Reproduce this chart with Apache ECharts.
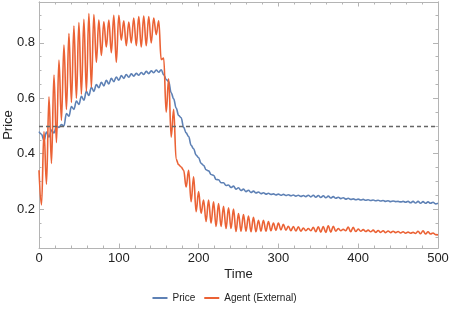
<!DOCTYPE html>
<html>
<head>
<meta charset="utf-8">
<script src="https://cdn.jsdelivr.net/npm/echarts@6/dist/echarts.min.js"></script>
<style>
html,body{margin:0;padding:0;background:#fff;}
#c{width:449px;height:311px;}
</style>
</head>
<body>
<div id="c"></div>
<script>
// Sample times (half-period grid)
const time = [
0,3.125,6.25,9.375,12.5,15.625,18.75,21.875,
25,28.125,31.25,34.375,37.5,40.625,43.75,46.875,
50,53.125,56.25,59.375,62.5,65.625,68.75,71.875,
75,78.125,81.25,84.375,87.5,90.625,93.75,96.875,
100,103.125,106.25,109.375,112.5,115.625,118.75,121.875,
125,128.125,131.25,134.375,137.5,140.625,143.75,146.875,
150,153.125,156.25,159.375,162.5,165.625,168.75,171.875,
175,178.125,181.25,184.375,187.5,190.625,193.75,196.875,
200,203.125,206.25,209.375,212.5,215.625,218.75,221.875,
225,228.125,231.25,234.375,237.5,240.625,243.75,246.875,
250,253.125,256.25,259.375,262.5,265.625,268.75,271.875,
275,278.125,281.25,284.375,287.5,290.625,293.75,296.875,
300,303.125,306.25,309.375,312.5,315.625,318.75,321.875,
325,328.125,331.25,334.375,337.5,340.625,343.75,346.875,
350,353.125,356.25,359.375,362.5,365.625,368.75,371.875,
375,378.125,381.25,384.375,387.5,390.625,393.75,396.875,
400,403.125,406.25,409.375,412.5,415.625,418.75,421.875,
425,428.125,431.25,434.375,437.5,440.625,443.75,446.875,
450,453.125,456.25,459.375,462.5,465.625,468.75,471.875,
475,478.125,481.25,484.375,487.5,490.625,493.75,496.875,
500];

const price = [
0.48,0.47,0.448,0.478,0.46,0.485,0.475,0.50,
0.495,0.505,0.50,0.545,0.535,0.57,0.56,0.59,
0.578,0.607,0.593,0.625,0.61,0.64,0.625,0.65,
0.638,0.658,0.645,0.665,0.652,0.672,0.66,0.677,
0.665,0.682,0.672,0.686,0.676,0.688,0.68,0.69,
0.683,0.693,0.686,0.697,0.689,0.699,0.692,0.702,
0.694,0.703,0.685,0.668,0.66,0.62,0.598,0.565,
0.538,0.53,0.495,0.475,0.462,0.43,0.418,0.395,
0.386,0.365,0.358,0.342,0.338,0.325,0.322,0.307,
0.306,0.295,0.295,0.285,0.287,0.278,0.283,0.272,
0.277,0.267,0.272,0.263,0.268,0.26,0.265,0.258,
0.262,0.256,0.259,0.254,0.257,0.253,0.255,0.251,
0.254,0.25,0.253,0.249,0.252,0.248,0.251,0.247,
0.25,0.246,0.249,0.245,0.25,0.244,0.25,0.243,
0.249,0.242,0.248,0.241,0.247,0.24,0.245,0.239,
0.243,0.238,0.241,0.236,0.239,0.235,0.237,0.234,
0.236,0.233,0.235,0.232,0.234,0.231,0.233,0.23,
0.232,0.229,0.231,0.228,0.23,0.227,0.229,0.227,
0.228,0.226,0.228,0.225,0.228,0.223,0.228,0.222,
0.228,0.221,0.227,0.221,0.226,0.221,0.225,0.219,
0.221];

const agent = [
0.34,0.215,0.48,0.29,0.605,0.365,0.684,0.44,
0.738,0.52,0.792,0.56,0.834,0.585,0.861,0.60,
0.873,0.615,0.885,0.625,0.906,0.64,0.902,0.73,
0.882,0.755,0.876,0.785,0.882,0.765,0.90,0.73,
0.90,0.81,0.88,0.79,0.875,0.80,0.89,0.79,
0.895,0.785,0.897,0.79,0.895,0.80,0.89,0.83,
0.88,0.74,0.745,0.55,0.67,0.46,0.56,0.38,
0.36,0.352,0.34,0.28,0.34,0.227,0.317,0.191,
0.263,0.185,0.233,0.155,0.233,0.149,0.226,0.137,
0.22,0.137,0.21,0.13,0.205,0.13,0.20,0.119,
0.184,0.12,0.18,0.12,0.175,0.118,0.17,0.118,
0.16,0.12,0.16,0.12,0.155,0.122,0.15,0.123,
0.15,0.125,0.145,0.124,0.138,0.122,0.137,0.121,
0.136,0.12,0.132,0.122,0.13,0.122,0.134,0.118,
0.136,0.117,0.137,0.116,0.14,0.117,0.138,0.12,
0.13,0.122,0.127,0.122,0.135,0.118,0.134,0.119,
0.128,0.12,0.126,0.119,0.124,0.118,0.124,0.116,
0.123,0.116,0.122,0.115,0.121,0.115,0.12,0.115,
0.119,0.114,0.118,0.113,0.117,0.113,0.116,0.112,
0.12,0.111,0.122,0.11,0.118,0.11,0.114,0.108,
0.107];

const threshold = 0.5;
const yMajor = [0.2,0.4,0.6,0.8];
const yMinor = [0.1,0.15,0.25,0.3,0.35,0.45,0.5,0.55,0.65,0.7,0.75,0.85,0.9];

const Y_MIN = 0.0596, Y_MAX = 0.9476;
const frameColor = '#b4b4b4';
const font = 'Liberation Sans, Arial, sans-serif';

function xAx(pos, labels){
  return {
    type:'value', position:pos, min:0, max:500, interval:100,
    name: labels ? 'Time' : '', nameLocation:'middle', nameGap:20, nameMoveOverlap:false,
    nameTextStyle:{color:'#222', fontSize:13, fontFamily:font},
    axisLine:{show:true, lineStyle:{color:frameColor, width:1}},
    axisTick:{show:true, inside:true, length:4.5, lineStyle:{color:frameColor}},
    minorTick:{show:true, splitNumber:5, length:2.5, lineStyle:{color:frameColor}},
    axisLabel:{show:labels, color:'#222', fontSize:13, fontFamily:font, margin:4},
    splitLine:{show:false}
  };
}
function yAx(pos, values, len, labels){
  return {
    type:'value', position:pos, min:Y_MIN, max:Y_MAX,
    name: labels ? 'Price' : '', nameLocation:'middle', nameGap:24, nameMoveOverlap:false,
    nameTextStyle:{color:'#222', fontSize:13, fontFamily:font},
    axisLine:{show:true, lineStyle:{color:frameColor, width:1}},
    axisTick:{show:true, inside:true, length:len, customValues:values, lineStyle:{color:frameColor}},
    axisLabel:{show:labels, color:'#222', fontSize:13, fontFamily:font, margin:4,
      customValues: values, formatter: v => (Math.round(v*10)/10).toFixed(1)},
    splitLine:{show:false}
  };
}

const chart = echarts.init(document.getElementById('c'), null, {renderer:'canvas'});
chart.setOption({
  animation:false,
  backgroundColor:'#fff',
  grid:{left:39, right:11, top:2, bottom:63, containLabel:false, outerBoundsMode:'none'},
  xAxis:[xAx('bottom', true), xAx('top', false)],
  yAxis:[yAx('left', yMajor, 5, true), yAx('left', yMinor, 2.5, false),
         yAx('right', yMajor, 5, false), yAx('right', yMinor, 2.5, false)],
  legend:{
    bottom:3, left:'center', itemWidth:15, itemHeight:2, itemGap:9,
    textStyle:{fontSize:10, color:'#222', fontFamily:font},
    data:[{name:'Price', icon:'rect'},{name:'Agent (External)', icon:'rect'}]
  },
  series:[
    {name:'Price', type:'line', xAxisIndex:0, yAxisIndex:0, symbol:'none',
     smooth:0.4, smoothMonotone:'x',
     lineStyle:{color:'#5E81B5', width:1.6}, itemStyle:{color:'#5E81B5'},
     data: time.map((t,i)=>[t, price[i]]), z:2},
    {name:'Agent (External)', type:'line', xAxisIndex:0, yAxisIndex:0, symbol:'none',
     smooth:0.4, smoothMonotone:'x',
     lineStyle:{color:'#EB6235', width:1.6}, itemStyle:{color:'#EB6235'},
     data: time.map((t,i)=>[t, agent[i]]), z:3,
     markLine:{silent:true, symbol:'none', label:{show:false},
       lineStyle:{color:'#666', width:1.4, type:[4,3]},
       data:[{yAxis:threshold}], z:5}}
  ]
});
</script>
</body>
</html>
